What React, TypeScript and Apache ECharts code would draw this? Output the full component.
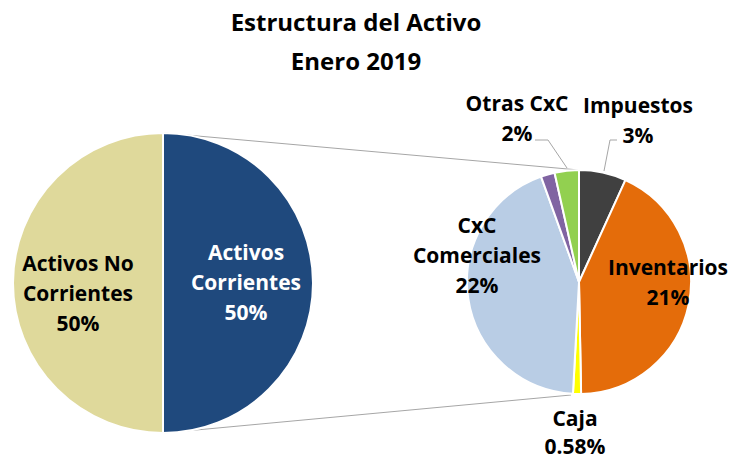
import React, { useEffect, useRef } from "react";
import * as echarts from "echarts";

// ---- data ----
const titleLines = ["Estructura del Activo", "Enero 2019"];
const mainCategories = ["Activos Corrientes", "Activos No Corrientes"];
const mainValues = [50, 50];
const mainDecimals = [0, 0];
const detailCategories = ["Impuestos", "Inventarios", "Caja", "CxC Comerciales", "Otros", "Otras CxC"];
const detailValues = [3.4, 21.45, 0.58, 21.82, 1.0, 1.75];
const detailDecimals = [0, 0, 2, 0, 0, 0];
const detailShowLabel = [true, true, true, true, false, true];

// ---- styling ----
const FONT = "'Open Sans', sans-serif";
const mainColors = ["#1F497D", "#DFD99B"];
const mainLabelColors = ["#FFFFFF", "#000000"];
const detailColors = ["#404040", "#E46C0A", "#FFFF00", "#B9CDE5", "#8064A2", "#92D050"];
const lineBreaks: Record<string, string> = {
  "Activos Corrientes": "Activos\nCorrientes",
  "Activos No Corrientes": "Activos No\nCorrientes",
  "CxC Comerciales": "CxC\nComerciales",
};
const L = { cx: 163, cy: 283, r: 150 };
const R = { cx: 579, cy: 282, r: 112 };
const mainLabelPos: number[][] = [[246, 282], [78, 293]];
const detailLabelPos: (number[] | null)[] = [[638, 120], [668, 282], [575, 432], [477, 255], null, [517, 118]];
const detailLineHeights = [30, 30, 28, 30, 30, 30];
const detailLeaders: Record<number, number[][]> = {
  0: [[604, 171], [610, 140], [617, 140]],
  5: [[567, 168], [548, 140], [535, 140]],
};

const makeFmt = (decimals: number[]) => (p: any) =>
  `${lineBreaks[p.name] ?? p.name}\n${Number(p.value).toFixed(decimals[p.dataIndex])}%`;

export default function App() {
  const ref = useRef<HTMLDivElement>(null);
  useEffect(() => {
    if (!ref.current) return;
    const chart = echarts.init(ref.current, undefined, { renderer: "svg" });
    const labelBase = { fontFamily: FONT, fontWeight: "bold" as const, fontSize: 21, lineHeight: 30 };
    chart.setOption({
      animation: false,
      backgroundColor: "#FFFFFF",
      title: {
        text: titleLines.join("\n"),
        left: 351,
        top: -3,
        textAlign: "center",
        textStyle: { fontFamily: FONT, fontWeight: "bold", fontSize: 24, lineHeight: 39, color: "#000" },
      },
      graphic: [
        {
          type: "line",
          z: -1,
          shape: { x1: L.cx + 1, y1: L.cy - L.r, x2: R.cx, y2: R.cy - R.r },
          style: { stroke: "#A6A6A6", lineWidth: 1 },
        },
        {
          type: "line",
          z: -1,
          shape: { x1: L.cx + 1, y1: L.cy + L.r, x2: R.cx - 8, y2: R.cy + R.r + 1 },
          style: { stroke: "#A6A6A6", lineWidth: 1 },
        },
      ],
      series: [
        {
          type: "pie",
          center: [L.cx, L.cy],
          radius: [0, L.r],
          startAngle: 90,
          clockwise: true,
          avoidLabelOverlap: false,
          itemStyle: { borderColor: "#FFFFFF", borderWidth: 2 },
          label: { ...labelBase, position: "inside", formatter: makeFmt(mainDecimals) },
          labelLine: { show: false },
          labelLayout: (p: any) => {
            const pos = mainLabelPos[p.dataIndex];
            return { x: pos[0], y: pos[1], align: "center", verticalAlign: "middle" };
          },
          data: mainCategories.map((n, i) => ({
            name: n,
            value: mainValues[i],
            itemStyle: { color: mainColors[i] },
            label: { color: mainLabelColors[i] },
          })),
        },
        {
          type: "pie",
          center: [R.cx, R.cy],
          radius: [0, R.r],
          startAngle: 90,
          clockwise: true,
          avoidLabelOverlap: false,
          itemStyle: { borderColor: "#FFFFFF", borderWidth: 2 },
          label: { ...labelBase, color: "#000", position: "outside", formatter: makeFmt(detailDecimals) },
          labelLine: { show: true, lineStyle: { color: "#A6A6A6", width: 1 } },
          labelLayout: (p: any) => {
            const pos = detailLabelPos[p.dataIndex];
            if (!pos) return {};
            const o: any = { x: pos[0], y: pos[1], align: "center", verticalAlign: "middle" };
            const pts = detailLeaders[p.dataIndex];
            if (pts) o.labelLinePoints = pts;
            return o;
          },
          data: detailCategories.map((n, i) => ({
            name: n,
            value: detailValues[i],
            itemStyle: { color: detailColors[i] },
            label: { show: detailShowLabel[i], lineHeight: detailLineHeights[i] },
            labelLine: { show: !!detailLeaders[i] },
          })),
        },
      ],
    });
    return () => chart.dispose();
  }, []);
  return <div ref={ref} style={{ position: "fixed", left: 0, top: 0, width: 730, height: 460 }} />;
}
